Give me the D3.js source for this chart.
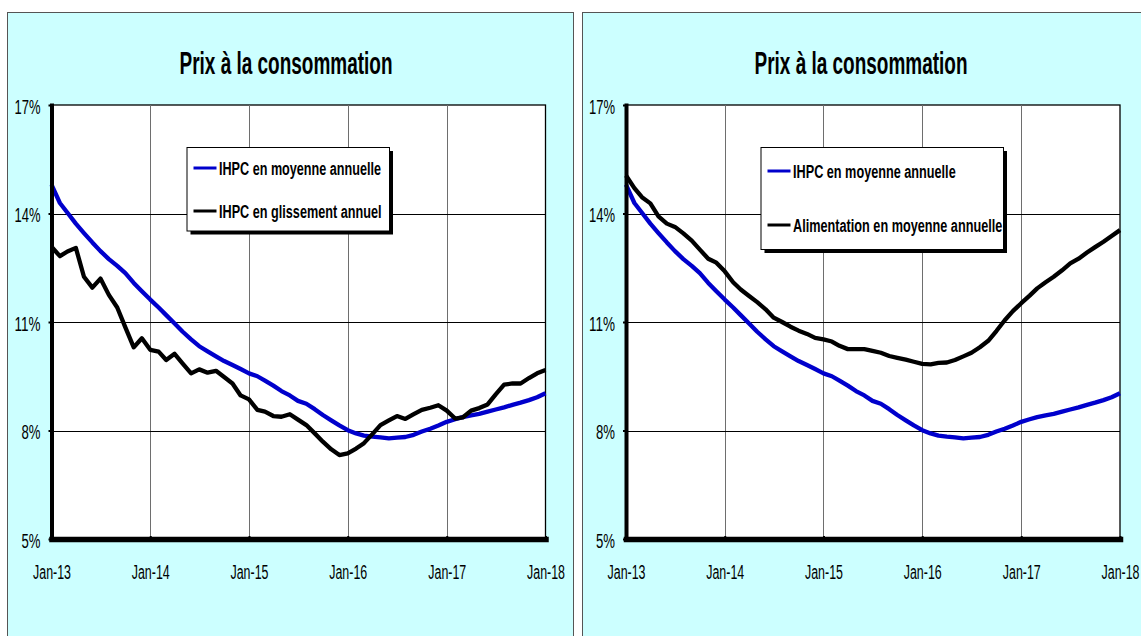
<!DOCTYPE html>
<html>
<head>
<meta charset="utf-8">
<script src="https://cdn.jsdelivr.net/npm/d3@7"></script>
<style>
    body { margin: 0; background: #fff; overflow: hidden; }
    text { font-family: "Liberation Sans", Arial, sans-serif; }
</style>
</head>
<body>
<svg id="chart" width="1141" height="636"></svg>
<script>
// Monthly dates, Jan-13 .. Jan-18
const months = d3.timeMonth.range(new Date(2013, 0, 1), new Date(2018, 0, 2));
const yearTicks = d3.timeYear.range(new Date(2013, 0, 1), new Date(2018, 0, 2));
const xTickLabels = ["Jan-13", "Jan-14", "Jan-15", "Jan-16", "Jan-17", "Jan-18"];
const yTicks = [5, 8, 11, 14, 17];
const yTickLabels = ["5%", "8%", "11%", "14%", "17%"];

// IHPC en moyenne annuelle (%)
const ihpcMoyenne = [
    14.8, 14.29, 14.02, 13.72, 13.46, 13.2, 12.96, 12.74, 12.55, 12.35, 12.08, 11.85,
    11.62, 11.4, 11.19, 10.96, 10.73, 10.52, 10.33, 10.19, 10.05, 9.92, 9.81, 9.7,
    9.58, 9.5, 9.38, 9.24, 9.09, 8.97, 8.82, 8.74, 8.59, 8.43, 8.28, 8.14,
    8.01, 7.92, 7.86, 7.83, 7.81, 7.78, 7.8, 7.82, 7.88, 7.97, 8.05, 8.14,
    8.24, 8.31, 8.37, 8.42, 8.46, 8.52, 8.58, 8.64, 8.71, 8.77, 8.84, 8.92,
    9.03
];

// IHPC en glissement annuel (%)
const ihpcGlissement = [
    13.08, 12.82, 12.95, 13.05, 12.25, 11.95, 12.2, 11.75, 11.4, 10.85, 10.3, 10.55,
    10.23, 10.18, 9.95, 10.12, 9.85, 9.58, 9.69, 9.6, 9.65, 9.48, 9.3, 8.97,
    8.86, 8.57, 8.52, 8.4, 8.38, 8.45, 8.3, 8.15, 7.92, 7.69, 7.48, 7.32,
    7.37, 7.5, 7.65, 7.9, 8.15, 8.28, 8.4, 8.32, 8.45, 8.57, 8.63, 8.7,
    8.55, 8.33, 8.36, 8.55, 8.62, 8.72, 9.0, 9.27, 9.3, 9.3, 9.45, 9.58,
    9.67
];

// Alimentation en moyenne annuelle (%)
const alimMoyenne = [
    15.05, 14.7, 14.45, 14.28, 13.92, 13.72, 13.63, 13.45, 13.25, 13.0, 12.75, 12.64,
    12.4, 12.1, 11.9, 11.72, 11.55, 11.35, 11.12, 11.0, 10.87, 10.76, 10.67, 10.56,
    10.52, 10.46, 10.34, 10.25, 10.25, 10.25, 10.2, 10.15, 10.06, 10.01, 9.96, 9.9,
    9.84, 9.83, 9.87, 9.88, 9.95, 10.05, 10.15, 10.3, 10.48, 10.75, 11.05, 11.3,
    11.52, 11.73, 11.93, 12.1, 12.25, 12.43, 12.62, 12.75, 12.92, 13.07, 13.22, 13.38,
    13.54
];

const title = "Prix à la consommation";
const BLUE = "#0000cc";
const BLACK = "#000000";

const svg = d3.select("#chart");

// squeeze text horizontally to a target width (condensed look)
function fitWidth(sel, w) {
    sel.attr("textLength", w).attr("lengthAdjust", "spacingAndGlyphs");
}

function drawPanel(p) {
    const g = svg.append("g");

    // Panel background
    g.append("rect")
        .attr("x", p.panelX + 0.5)
        .attr("y", 12.5)
        .attr("width", 566)
        .attr("height", 700)
        .attr("fill", "#ccffff")
        .attr("stroke", "#555")
        .attr("stroke-width", 1);

    // Title
    g.append("text")
        .attr("x", p.panelX + 279)
        .attr("y", 73.5)
        .attr("text-anchor", "middle")
        .attr("font-size", 32)
        .attr("font-weight", "bold")
        .text(title)
        .call(fitWidth, 213);

    const top = 105, bottom = 539;

    const x = d3.scaleTime()
        .domain(d3.extent(months))
        .range([p.left, p.left + 494]);

    const y = d3.scaleLinear()
        .domain([5, 17])
        .range([bottom, top]);

    // Plot area
    g.append("rect")
        .attr("x", p.left)
        .attr("y", top)
        .attr("width", 494)
        .attr("height", bottom - top)
        .attr("fill", "#fff")
        .attr("stroke", "#000")
        .attr("stroke-width", 1.3);

    // Gridlines
    g.append("g")
        .selectAll("line")
        .data(yearTicks.slice(1, -1))
        .join("line")
        .attr("x1", d => Math.round(x(d)) + 0.5)
        .attr("x2", d => Math.round(x(d)) + 0.5)
        .attr("y1", top)
        .attr("y2", bottom)
        .attr("stroke", "#6e6e6e")
        .attr("stroke-width", 1);

    g.append("g")
        .selectAll("line")
        .data(yTicks.slice(1, -1))
        .join("line")
        .attr("x1", p.left)
        .attr("x2", p.left + 494)
        .attr("y1", d => Math.round(y(d)) + 0.5)
        .attr("y2", d => Math.round(y(d)) + 0.5)
        .attr("stroke", "#000")
        .attr("stroke-width", 1);

    // Series lines
    const line = d3.line()
        .x((d, i) => x(months[i]))
        .y(d => y(d));

    p.series.forEach(s => {
        g.append("path")
            .datum(s.values)
            .attr("fill", "none")
            .attr("stroke", s.color)
            .attr("stroke-width", 4.3)
            .attr("stroke-linejoin", "round")
            .attr("d", line);
    });

    // Y axis
    const yAxis = g.append("g")
        .attr("transform", `translate(${p.left},0)`)
        .call(d3.axisLeft(y)
            .tickValues(yTicks)
            .tickFormat((d, i) => yTickLabels[i])
            .tickSize(3)
            .tickSizeOuter(0)
            .tickPadding(8));
    yAxis.select(".domain").attr("stroke-width", 4).attr("stroke-linecap", "square");
    yAxis.selectAll(".tick line").attr("stroke-width", 2);
    yAxis.selectAll("text")
        .attr("font-size", 20)
        .attr("font-family", "Liberation Sans, Arial, sans-serif")
        .attr("fill", "#000")
        .attr("dy", "0.42em")
        .each(function(d, i) {
            d3.select(this).call(fitWidth, yTickLabels[i].length === 2 ? 19 : 26);
        });

    // X axis
    const xAxis = g.append("g")
        .attr("transform", `translate(0,${bottom})`)
        .call(d3.axisBottom(x)
            .tickValues(yearTicks)
            .tickFormat((d, i) => xTickLabels[i])
            .tickSize(-3)
            .tickSizeOuter(0)
            .tickPadding(0));
    xAxis.select(".domain").attr("stroke-width", 5.5).attr("stroke-linecap", "square");
    xAxis.selectAll(".tick line").attr("stroke-width", 2);
    xAxis.selectAll("text")
        .attr("font-size", 20)
        .attr("font-family", "Liberation Sans, Arial, sans-serif")
        .attr("fill", "#000")
        .attr("y", 39.5)
        .attr("dy", 0)
        .call(fitWidth, 38);

    // Legend
    const lg = g.append("g");
    lg.append("rect")
        .attr("x", p.legend.x + 4)
        .attr("y", p.legend.y + 4)
        .attr("width", p.legend.w)
        .attr("height", p.legend.h)
        .attr("fill", "#000");
    lg.append("rect")
        .attr("x", p.legend.x + 0.5)
        .attr("y", p.legend.y + 0.5)
        .attr("width", p.legend.w)
        .attr("height", p.legend.h)
        .attr("fill", "#fff")
        .attr("stroke", "#000")
        .attr("stroke-width", 1);

    p.series.forEach((s, i) => {
        const ly = p.legend.rows[i];
        lg.append("line")
            .attr("x1", p.legend.x + 7)
            .attr("x2", p.legend.x + 30)
            .attr("y1", ly)
            .attr("y2", ly)
            .attr("stroke", s.color)
            .attr("stroke-width", 3);
        lg.append("text")
            .attr("x", p.legend.x + 32.5)
            .attr("y", ly + 7)
            .attr("font-size", 18)
            .attr("font-weight", "bold")
            .text(s.name)
            .call(fitWidth, s.labelWidth);
    });
}

drawPanel({
    panelX: 7,
    left: 51.5,
    series: [
        { name: "IHPC en moyenne annuelle", values: ihpcMoyenne, color: BLUE, labelWidth: 162 },
        { name: "IHPC en glissement annuel", values: ihpcGlissement, color: BLACK, labelWidth: 162.5 }
    ],
    legend: { x: 186.5, y: 147, w: 202.5, h: 83.5, rows: [168, 211] }
});

drawPanel({
    panelX: 582,
    left: 626,
    series: [
        { name: "IHPC en moyenne annuelle", values: ihpcMoyenne, color: BLUE, labelWidth: 162.7 },
        { name: "Alimentation en moyenne annuelle", values: alimMoyenne, color: BLACK, labelWidth: 209.3 }
    ],
    legend: { x: 760.5, y: 147, w: 242.5, h: 102, rows: [171, 225] }
});
</script>
</body>
</html>
